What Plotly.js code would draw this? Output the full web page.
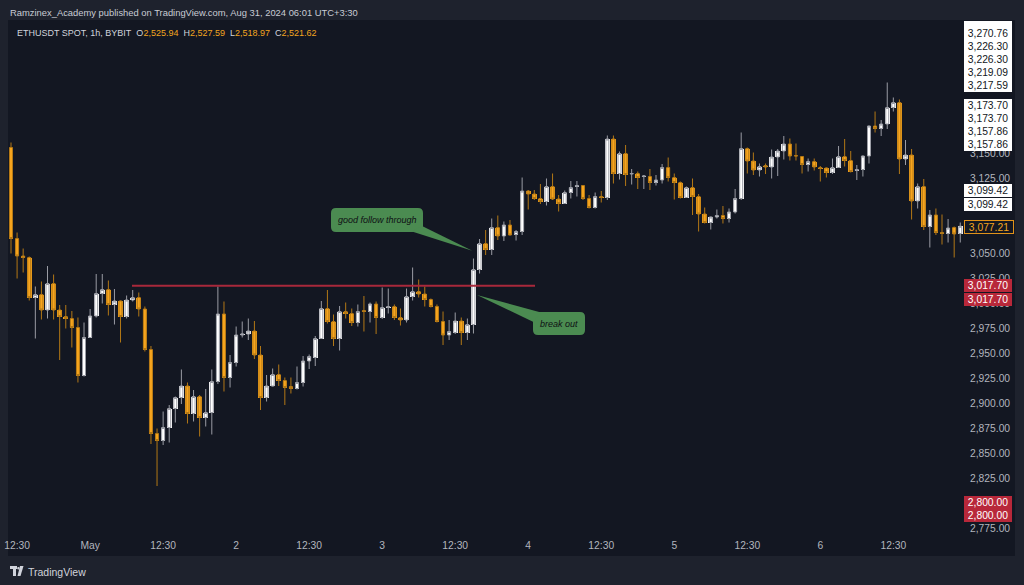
<!DOCTYPE html>
<html><head><meta charset="utf-8">
<script src="https://cdn.plot.ly/plotly-3.0.1.min.js"></script>
<style>html,body{margin:0;padding:0;background:#131722;}#chart{width:1024px;height:585px;}</style>
</head><body><div id="chart"></div>
<script>
// ---------------- DATA ----------------
const symbolTitle = "ETHUSDT SPOT, 1h, BYBIT";
const publisherLine = "Ramzinex_Academy published on TradingView.com, Aug 31, 2024 06:01 UTC+3:30";
const headerOHLC = ["2,525.94", "2,527.59", "2,518.97", "2,521.62"];
const firstBarTime = "2024-04-30T11:30";   // local (UTC+3:30) hourly bars

const open = [3156,3065,3047.5,3046,3006,3009,2993.5,3020,2993.5,2987,2985,2976,2928,2966,2987.5,3010,3014,2999,3002.5,2987,
3003.5,3006,2994.5,2954,2870,2863,2876,2895,2906,2917.5,2890,2907,2886,2891,2922,2989.5,2926,2941,2968.5,2969.5,
2972.5,2948.5,2906,2917.5,2929,2923,2917,2915,2921,2942.5,2946,2965,2995,2982,2965,2992,2990,2981,2993,2992,
2999.5,2986,2996,2997,2986,2983.5,3007,3012,3009.5,3004,2997,2982,2968.5,2971,2982.5,2971,2979,3034,3060,3054,
3076,3067.5,3078.5,3069,3072,3112.5,3109.5,3105,3102,3117,3104.5,3100,3111,3117,3118,3105,3096,3107,3106,3164.5,
3130,3150,3129.5,3130,3127,3127,3121,3123.5,3136,3126,3121,3106,3116,3107,3089.5,3081,3086.5,3088,3085,3091.5,
3105,3155,3142.5,3133.5,3138,3136.5,3146.5,3152.5,3159.5,3148,3147,3139,3142,3136,3135.5,3131,3136,3147,3143,3133,
3134,3147.5,3177.5,3175,3179.5,3196,3201,3144.5,3148.5,3102.5,3117,3077,3088.5,3071,3070,3076,3070];
const high = [3161,3071,3055,3047,3017,3022,3037.5,3029,2998.5,2998.5,2992.5,2986,2981,2994.5,3029.5,3029.5,3023,3014.5,3003,3008,
3013.5,3011,2997,2957.5,2875,2892,2898.5,2907,2934,2921,2913.5,2908.5,2914.5,2934,3017,3002,2948.5,2977,2982,2985,
2982.5,2957.5,2928.5,2935,2939,2926,2926,2937,2947.5,2949,2967.5,3002.5,3013.5,2989,2997.5,3001,2995,2999,3007.5,3001,
3002,3016,3015,2999,2995,3015,3036,3024,3017,3005,2999,2992,2983.5,2991,2986,2985,3045,3064.5,3073.5,3085,
3088,3082,3083.5,3073.5,3126,3113.5,3113.5,3119.5,3125,3130,3108.5,3113,3122.5,3122.5,3118.5,3108.5,3111,3112.5,3168,3168,
3152,3158.5,3134.5,3132,3128.5,3134.5,3128.5,3139.5,3146,3130,3122,3117,3125,3109.5,3096,3087,3094,3097.5,3095,3114.5,
3171,3156,3151,3140,3140,3154,3154.5,3167.5,3165,3160,3147.5,3145,3145,3137.5,3136,3145,3157.5,3164.5,3152.5,3138.5,
3148,3178,3192,3183.5,3221,3206,3204,3163.5,3154.5,3120,3124.5,3093.5,3095,3089,3084.5,3077,3081];
const low = [3050,3025,3031,3003,2965,2984,2985,2984,2943.5,2975,2956,2921,2927,2966,2986,3000,2988,2979,2961,2985,
3002,2987,2952,2859.5,2817.5,2858.5,2861,2881,2899.5,2880,2882,2867,2877,2869,2919.5,2912,2916,2937,2966,2963.5,
2944.5,2893.5,2902,2917,2917.5,2898.5,2910,2914,2917,2934.5,2937.5,2965,2980,2957.5,2953,2985,2977.5,2977,2972,2981,
2969.5,2984.5,2990,2983.5,2978,2981,3003,3006,2997,2996,2981,2958.5,2963.5,2969.5,2958.5,2963.5,2970,3030,3048.5,3048.5,
3063.5,3062.5,3068,3063,3068.5,3094,3103.5,3099.5,3098,3103.5,3092,3099.5,3105,3107,3103.5,3095,3095,3101,3103.5,3120,
3124,3117.5,3119,3114.5,3114.5,3113.5,3118,3120,3122,3104,3105,3106,3088.5,3072,3080,3074,3085,3080,3081,3090,
3103.5,3130,3128.5,3127,3129.5,3125,3127.5,3144,3143,3143,3130,3132,3133,3122,3126,3129.5,3136,3137,3131,3123.5,
3127,3140,3171,3167.5,3174.5,3192,3129.5,3138.5,3084,3095,3073.5,3056,3068.5,3059,3061,3046,3061];
const close = [3065,3047.5,3046,3006,3009,2993.5,3020,2993.5,2987,2985,2976,2928,2966,2987.5,3010,3014,2999,3002.5,2987,3003.5,
3006,2994.5,2954,2870,2863,2876,2895,2906,2917.5,2890,2907,2886,2891,2922,2989.5,2926,2941,2968.5,2969.5,2972.5,
2948.5,2906,2917.5,2929,2923,2916,2915,2921,2942.5,2947,2965,2995,2982,2965,2992,2990,2981,2992,2992,2999.5,
2986,2996,2997,2986,2983.5,3007,3012,3009.5,3004,2997,2982,2968.5,2972,2982.5,2971,2979,3034,3060,3054,3076,
3067.5,3078.5,3068.5,3072,3112.5,3109.5,3105,3102,3117,3104.5,3100,3111,3116,3118,3105,3096,3107,3106,3164.5,3130,
3150,3129,3130,3126,3127.5,3121,3123.5,3136,3126,3121,3106,3116,3107,3089.5,3081,3086.5,3088,3085,3091.5,3105,
3155,3142.5,3133.5,3137,3136.5,3146.5,3152.5,3159.5,3147.5,3147.5,3139,3142,3136.5,3135,3131,3136,3147,3143,3132,3134,
3147.5,3177.5,3175,3179.5,3196,3201,3144.5,3148.5,3102.5,3117,3077,3088.5,3071,3070,3075.5,3069.5,3077.21];

const breakoutLevel = 3017.70;
const whiteLabels = [3270.76, 3226.30, 3226.30, 3219.09, 3217.59, 3173.70, 3173.70, 3157.86, 3157.86, 3099.42, 3099.42];
const lastPriceLabel = 3077.21;
const redLabels = [3017.70, 3017.70, 2800.00, 2800.00];
const calloutTexts = ["good follow through", "break out"];

// ---------------- LAYOUT HELPERS (pixel geometry) ----------------
const L = 8, R = 963, T = 20, B = 535;
const PX_PER_BAR = 6.085, FIRST_BAR_PX = 11, PRICE_AT_TOP_PX0 = 3303.5;
const pxToIdx = px => (px - FIRST_BAR_PX) / PX_PER_BAR;
const pyToPrice = py => PRICE_AT_TOP_PX0 - py;
const pX = px => (px - L) / (R - L);
const pY = py => (B - py) / (B - T);

// times
const n = open.length;
const t0 = Date.parse(firstBarTime + ":00Z");
const times = [], idx = [];
for (let k = 0; k < n; k++) { idx.push(k); times.push(new Date(t0 + k * 3600000)); }
const monthNames = ["Jan","Feb","Mar","Apr","May","Jun","Jul","Aug","Sep","Oct","Nov","Dec"];
const tickvals = [], ticktext = [];
times.forEach((d, k) => {
  const hh = d.getUTCHours(), mm = d.getUTCMinutes();
  if (hh === 0 && mm === 30) { tickvals.push(k); ticktext.push(d.getUTCDate() === 1 ? monthNames[d.getUTCMonth()] : String(d.getUTCDate())); }
  else if (hh === 12 && mm === 30) { tickvals.push(k); ticktext.push("12:30"); }
});

const UP_BODY = "#ffffff", UP_WICK = "#9a9ca4", DN_BODY = "#f7a51e", DN_WICK = "#b37816";
const FONT = "Liberation Sans, Arial, sans-serif";
const HFONT = "Liberation Sans, Arial, sans-serif";

const candles = {
  type: "candlestick", x: idx, open: open, high: high, low: low, close: close,
  increasing: { line: { color: UP_WICK, width: 1 }, fillcolor: UP_BODY },
  decreasing: { line: { color: DN_WICK, width: 1 }, fillcolor: DN_BODY },
  whiskerwidth: 0, hoverinfo: "skip", showlegend: false
};
const bodies = {
  type: "bar", x: idx,
  base: open.map((o, k) => Math.min(o, close[k])),
  y: open.map((o, k) => Math.abs(close[k] - o)),
  width: 0.76,
  marker: { color: open.map((o, k) => close[k] >= o ? UP_BODY : DN_BODY), line: { width: 0 } },
  hoverinfo: "skip", showlegend: false
};

// callout shapes
const P = (x, y) => pxToIdx(x) + "," + pyToPrice(y);
function rrPath(x0, y0, x1, y1, r) {
  return "M" + P(x0 + r, y0) + " L" + P(x1 - r, y0) + " Q" + P(x1, y0) + " " + P(x1, y0 + r) +
    " L" + P(x1, y1 - r) + " Q" + P(x1, y1) + " " + P(x1 - r, y1) +
    " L" + P(x0 + r, y1) + " Q" + P(x0, y1) + " " + P(x0, y1 - r) +
    " L" + P(x0, y0 + r) + " Q" + P(x0, y0) + " " + P(x0 + r, y0) + " Z";
}
function triPath(a, b, c) { return "M" + P(a[0], a[1]) + " L" + P(b[0], b[1]) + " L" + P(c[0], c[1]) + " Z"; }
const GREEN = "#4b8b51";
const shapes = [
  // frame bands
  { type: "rect", xref: "paper", yref: "paper", x0: pX(0), x1: pX(1024), y0: pY(20), y1: pY(0), fillcolor: "#1e222d", line: { width: 0 }, layer: "below" },
  { type: "rect", xref: "paper", yref: "paper", x0: pX(0), x1: pX(1024), y0: pY(585), y1: pY(556), fillcolor: "#1e222d", line: { width: 0 }, layer: "below" },
  { type: "rect", xref: "paper", yref: "paper", x0: pX(0), x1: pX(8), y0: pY(556), y1: pY(20), fillcolor: "#1e222d", line: { width: 0 }, layer: "below" },
  { type: "rect", xref: "paper", yref: "paper", x0: pX(1015), x1: pX(1024), y0: pY(556), y1: pY(20), fillcolor: "#1e222d", line: { width: 0 }, layer: "below" },
  // breakout level line
  { type: "line", xref: "x", yref: "y", x0: pxToIdx(132), x1: pxToIdx(535), y0: breakoutLevel, y1: breakoutLevel, line: { color: "#a8283b", width: 2 } },
  // callout 1
  { type: "path", xref: "x", yref: "y", path: rrPath(331, 208, 423, 232, 5), fillcolor: GREEN, line: { width: 0 } },
  { type: "path", xref: "x", yref: "y", path: triPath([412, 231.5], [422, 226], [472.3, 250.7]), fillcolor: GREEN, line: { width: 0 } },
  // callout 2
  { type: "path", xref: "x", yref: "y", path: rrPath(533, 312, 585, 335, 5), fillcolor: GREEN, line: { width: 0 } },
  { type: "path", xref: "x", yref: "y", path: triPath([533.5, 322], [541, 312.5], [477, 295]), fillcolor: GREEN, line: { width: 0 } },
  // TradingView logo (approx.)
  { type: "rect", xref: "paper", yref: "paper", x0: pX(10), x1: pX(17), y0: pY(569), y1: pY(566), fillcolor: "#d1d4dc", line: { width: 0 } },
  { type: "rect", xref: "paper", yref: "paper", x0: pX(13), x1: pX(16), y0: pY(576), y1: pY(566), fillcolor: "#d1d4dc", line: { width: 0 } },
  { type: "circle", xref: "paper", yref: "paper", x0: pX(17.2), x1: pX(19.6), y0: pY(569.4), y1: pY(567), fillcolor: "#d1d4dc", line: { width: 0 } },
  { type: "path", xref: "paper", yref: "paper", path: "M" + pX(20) + "," + pY(566) + " L" + pX(23.5) + "," + pY(566) + " L" + pX(20.5) + "," + pY(576) + " L" + pX(17.5) + "," + pY(576) + " Z", fillcolor: "#d1d4dc", line: { width: 0 } }
];

// annotations
const ann = [];
ann.push({ xref: "paper", yref: "paper", x: pX(8), y: pY(12.3), xanchor: "left", yanchor: "middle", showarrow: false,
  text: publisherLine, font: { family: HFONT, size: 9.4, color: "#c9ccd4" } });
const OC = "#f2a51f";
ann.push({ xref: "paper", yref: "paper", x: pX(14.5), y: pY(33.5), xanchor: "left", yanchor: "middle", showarrow: false,
  text: symbolTitle + "&nbsp;&nbsp;O<span style='color:" + OC + "'>" + headerOHLC[0] + "</span>&nbsp;&nbsp;H<span style='color:" + OC + "'>" + headerOHLC[1] +
    "</span>&nbsp;&nbsp;L<span style='color:" + OC + "'>" + headerOHLC[2] + "</span>&nbsp;&nbsp;C<span style='color:" + OC + "'>" + headerOHLC[3] + "</span>",
  font: { family: HFONT, size: 9, color: "#d1d4dc" } });
ann.push({ xref: "paper", yref: "paper", x: pX(26), y: pY(571.5), xanchor: "left", yanchor: "middle", showarrow: false,
  text: "TradingView", font: { family: HFONT, size: 10.5, color: "#d1d4dc" } });
// callout texts
ann.push({ xref: "x", yref: "y", x: pxToIdx(377), y: pyToPrice(219.5), showarrow: false, text: "<i>" + calloutTexts[0] + "</i>",
  font: { family: "Liberation Sans, sans-serif", size: 9, color: "#0e1014" } });
ann.push({ xref: "x", yref: "y", x: pxToIdx(559), y: pyToPrice(323.5), showarrow: false, text: "<i>" + calloutTexts[1] + "</i>",
  font: { family: "Liberation Sans, sans-serif", size: 9, color: "#0e1014" } });

// price-axis labels (stacked like TradingView)
const fmt = v => v.toLocaleString("en-US", { minimumFractionDigits: 2, maximumFractionDigits: 2 });
const LAB_X = 964, LAB_W = 48;
function priceLabel(text, cy, h, bg, fg, border) {
  ann.push({ xref: "paper", yref: "paper", x: pX(LAB_X), y: pY(cy), xanchor: "left", yanchor: "middle", showarrow: false,
    text: text, width: LAB_W, height: h, bgcolor: bg, bordercolor: border || bg, borderwidth: border ? 1 : 0, borderpad: 0,
    font: { family: FONT, size: 10.3, color: fg } });
}
const whiteCenters = [33.3, 46.4, 59.5, 72.6, 85.7, 105, 118.3, 131.6, 144.9, 190.9, 204.3];
priceLabel(" ", 23.9, 5.8, "#ffffff", "#131722");
whiteLabels.forEach((v, k) => priceLabel(fmt(v), whiteCenters[k], 13.2, "#ffffff", "#131722"));
priceLabel(fmt(lastPriceLabel), 227, 12, "#131722", "#f2a51f", "#e0921a");
const redCenters = [285.7, 299, 502.3, 515.7];
redLabels.forEach((v, k) => priceLabel(fmt(v), redCenters[k], 13.4, "#b8283a", "#ffffff"));

const layout = {
  width: 1024, height: 585,
  margin: { l: L, r: 1024 - R, t: T, b: 585 - B, pad: 0 },
  paper_bgcolor: "#131722", plot_bgcolor: "#131722",
  showlegend: false, barmode: "overlay", bargap: 0,
  xaxis: { range: [pxToIdx(L), pxToIdx(R)], tickvals: tickvals, ticktext: ticktext, showgrid: false, zeroline: false,
    showline: false, ticks: "", ticklabelstandoff: 3, tickfont: { family: FONT, size: 10.3, color: "#b2b5be" }, rangeslider: { visible: false }, fixedrange: true },
  yaxis: { side: "right", range: [pyToPrice(B), pyToPrice(T)], dtick: 25, tick0: 0, tickformat: ",.2f", showgrid: false, zeroline: false,
    showline: false, ticks: "", ticklabelstandoff: 6, tickfont: { family: FONT, size: 10.3, color: "#b2b5be" }, fixedrange: true },
  shapes: shapes, annotations: ann
};
Plotly.newPlot("chart", [candles, bodies], layout, { displayModeBar: false, staticPlot: true });
</script>
</body></html>
